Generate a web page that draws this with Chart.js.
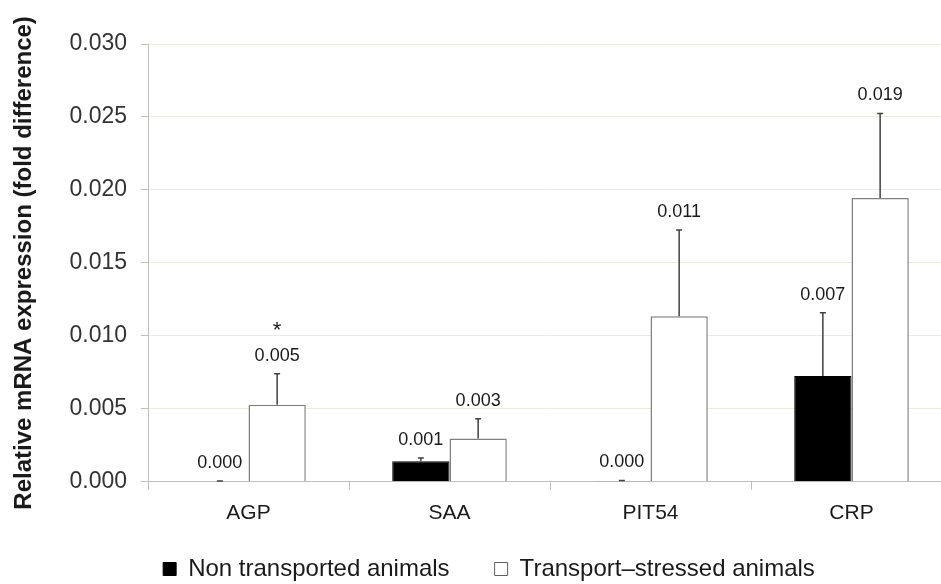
<!DOCTYPE html>
<html>
<head>
<meta charset="utf-8">
<script src="https://cdn.jsdelivr.net/npm/chart.js@4.4.1/dist/chart.umd.min.js"></script>
<style>
  html, body { margin: 0; padding: 0; background: #ffffff; overflow: hidden; }
  #wrap { width: 941px; height: 584px; position: relative; overflow: hidden; }
  #c { position: absolute; left: 0; top: 0; }
</style>
</head>
<body>
<div id="wrap"><canvas id="c" width="952" height="616"></canvas></div>
<script>
const categories = ['AGP', 'SAA', 'PIT54', 'CRP'];
const nonTransported = [0.00003, 0.0014, 0.00005, 0.00725];
const nonTransportedErr = [0.00003, 0.00023, 0.00004, 0.00433];
const transportStressed = [0.00528, 0.00297, 0.01135, 0.01945];
const transportStressedErr = [0.00212, 0.00135, 0.0059, 0.00579];
const nonLabels = ['0.000', '0.001', '0.000', '0.007'];
const stressLabels = ['0.005', '0.003', '0.011', '0.019'];
const stressMarks = ['*', '', '', ''];
const yTicks = [0, 0.005, 0.010, 0.015, 0.020, 0.025, 0.030];

const FONT = "'Liberation Sans', Arial, sans-serif";

const errorBarPlugin = {
  id: 'errorBars',
  afterDatasetsDraw(chart) {
    const ctx = chart.ctx;
    const y = chart.scales.y;
    const errs = [nonTransportedErr, transportStressedErr];
    const labels = [nonLabels, stressLabels];
    const vals = [nonTransported, transportStressed];
    ctx.save();
    chart.data.datasets.forEach((ds, di) => {
      const meta = chart.getDatasetMeta(di);
      meta.data.forEach((bar, i) => {
        const v = vals[di][i];
        const top = y.getPixelForValue(v);
        const et = y.getPixelForValue(v + errs[di][i]);
        ctx.strokeStyle = '#404040';
        ctx.lineWidth = 1.5;
        ctx.beginPath();
        ctx.moveTo(bar.x, top);
        ctx.lineTo(bar.x, et);
        ctx.moveTo(bar.x - 3, et);
        ctx.lineTo(bar.x + 3, et);
        ctx.stroke();
        ctx.fillStyle = '#1a1a1a';
        ctx.font = "18px " + FONT;
        ctx.textAlign = 'center';
        ctx.textBaseline = 'alphabetic';
        ctx.fillText(labels[di][i], bar.x, et - 13);
        if (di === 1 && stressMarks[i]) {
          ctx.font = "22px " + FONT;
          ctx.fillText(stressMarks[i], bar.x, et - 37);
        }
      });
    });
    ctx.restore();
  }
};

// pull the legend row closer to the category labels
const legendShift = {
  id: 'legendShift',
  afterLayout(chart) {
    if (chart.legend) {
      chart.legend.top -= 25;
      chart.legend.bottom -= 25;
      chart.legend.left += 8;
      chart.legend.right += 8;
    }
  }
};

new Chart(document.getElementById('c'), {
  type: 'bar',
  data: {
    labels: categories,
    datasets: [
      {
        label: 'Non transported animals',
        data: nonTransported,
        backgroundColor: '#000000',
        borderColor: '#000000',
        borderWidth: 1
      },
      {
        label: 'Transport\u2013stressed animals',
        data: transportStressed,
        backgroundColor: '#ffffff',
        borderColor: '#808080',
        borderWidth: 1.5
      }
    ]
  },
  options: {
    responsive: false,
    animation: false,
    devicePixelRatio: 1,
    layout: { padding: { top: 44, right: 0, left: 10, bottom: 0 } },
    datasets: { bar: { categoryPercentage: 0.57, barPercentage: 1.0 } },
    scales: {
      x: {
        grid: { display: true, drawOnChartArea: false, drawTicks: true, tickLength: 8, color: '#bfbfbf', offset: true },
        border: { color: '#bfbfbf', width: 1 },
        ticks: { color: '#1a1a1a', font: { family: FONT, size: 21 }, padding: 11 }
      },
      y: {
        min: 0,
        max: 0.030,
        afterBuildTicks(axis) { axis.ticks = yTicks.map(v => ({ value: v })); },
        afterFit(axis) { axis.width = 138; },
        grid: { color: '#ecebe0', tickLength: 7, tickColor: '#bfbfbf' },
        border: { color: '#bfbfbf', width: 1 },
        ticks: {
          color: '#333333',
          font: { family: FONT, size: 23 },
          padding: 14,
          callback: (v) => Number(v).toFixed(3)
        },
        title: {
          display: true,
          text: 'Relative mRNA expression (fold difference)',
          color: '#1a1a1a',
          font: { family: FONT, size: 24, weight: 'bold' },
          padding: { top: 0, bottom: 0 }
        }
      }
    },
    plugins: {
      legend: {
        position: 'bottom',
        labels: {
          color: '#1a1a1a',
          font: { family: FONT, size: 24 },
          boxWidth: 13,
          boxHeight: 13,
          padding: 45,
          generateLabels(chart) {
            return chart.data.datasets.map((ds, i) => ({
              text: ds.label,
              fillStyle: ds.backgroundColor,
              strokeStyle: i === 0 ? '#000000' : '#606060',
              lineWidth: 1,
              datasetIndex: i,
              fontColor: '#1a1a1a'
            }));
          }
        }
      },
      tooltip: { enabled: false }
    }
  },
  plugins: [errorBarPlugin, legendShift]
});
</script>
</body>
</html>
